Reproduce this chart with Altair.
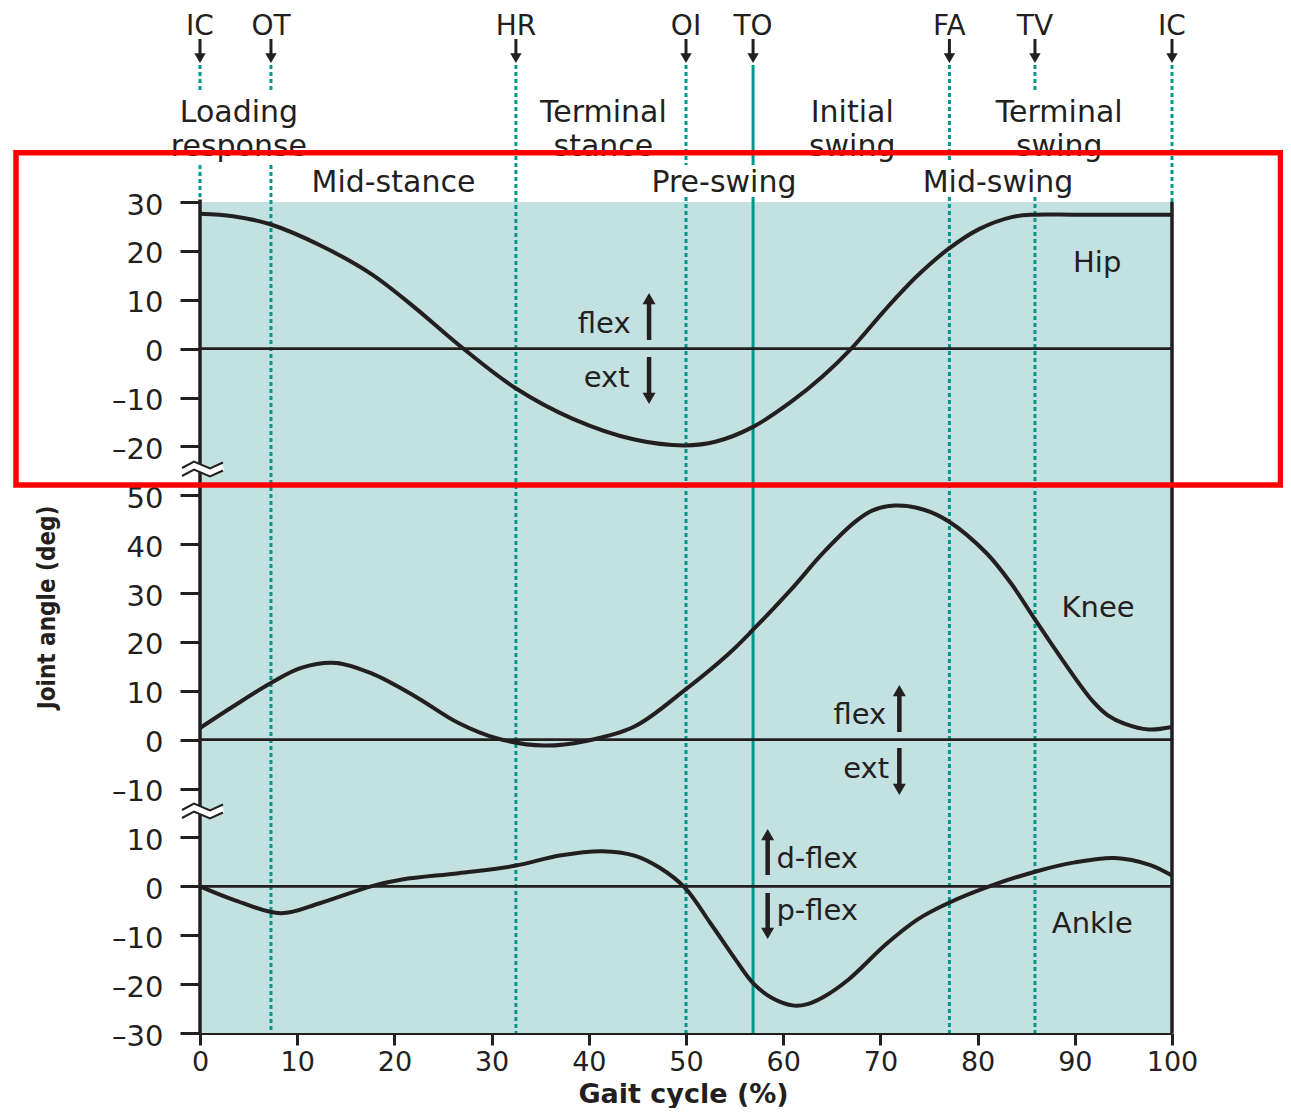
import altair as alt
import pandas as pd

# ---------------- data ----------------
hip_x = [0, 3.4, 7.3, 12.4, 17.6, 22.1, 26.6, 32.4, 38.3, 44.7, 49.9, 53.1, 56.9, 60.8,
         64.1, 67.0, 70.6, 73.8, 77.0, 80.2, 83.5, 85.7, 90, 95, 100]
hip_y = [27.6, 27.1, 25.4, 21.1, 15.3, 8.4, 0.8, -8.0, -14.3, -18.6, -19.8, -19.0, -16.0, -10.9,
         -5.6, 0.0, 8.2, 14.9, 20.4, 24.5, 26.9, 27.4, 27.4, 27.4, 27.4]

knee_x = [0, 3.4, 7.3, 10.4, 14.0, 17.6, 22.1, 26.6, 30.5, 35.4, 39.6, 44.7, 49.9, 54.4, 56.9,
          60.8, 64.1, 67.3, 69.2, 71.5, 74.4, 77.0, 80.9, 83.4, 85.9, 88.7, 91.8, 93.4, 95.1,
          97.6, 100]
knee_y = [2.4, 6.8, 11.6, 14.7, 15.7, 13.6, 8.9, 3.4, 0.3, -1.2, -0.3, 2.7, 10.2, 17.6, 22.5,
          30.7, 38.2, 44.4, 46.9, 47.9, 47.1, 44.7, 38.2, 32.1, 24.6, 16.4, 8.0, 5.0, 3.3,
          2.1, 2.6]

ankle_x = [0, 3.4, 8.3, 12.4, 17.6, 20.8, 26.6, 32.4, 37.0, 41.4, 44.7, 47.3, 49.9, 52.5, 55.1,
           56.9, 58.9, 61.1, 62.5, 64.0, 66.7, 70.6, 73.8, 77.0, 81.2, 86.1, 90.0, 94.1, 97.7, 100]
ankle_y = [0, -2.7, -5.5, -3.4, 0, 1.4, 2.7, 4.2, 6.3, 7.2, 6.3, 3.8, -0.3, -7.5, -15.0,
           -19.8, -22.9, -24.4, -24.1, -22.8, -19.1, -11.8, -6.8, -3.4, 0, 3.1, 4.9, 5.8, 4.4, 2.2]

joint_names = ["Hip", "Knee", "Ankle"]
hip_ticks = [30, 20, 10, 0, -10, -20]
knee_ticks = [50, 40, 30, 20, 10, 0, -10]
ankle_ticks = [10, 0, -10, -20, -30]
x_ticks = [0, 10, 20, 30, 40, 50, 60, 70, 80, 90, 100]

event_names = ["IC", "OT", "HR", "OI", "TO", "FA", "TV", "IC"]
event_pos = [0, 7.3, 32.5, 50.0, 56.9, 77.1, 85.9, 100]

phase_top_1 = ["Loading", "Terminal", "Initial", "Terminal"]
phase_top_2 = ["response", "stance", "swing", "swing"]
phase_top_x = [4.0, 41.5, 67.1, 88.4]
phase_mid = ["Mid-stance", "Pre-swing", "Mid-swing"]
phase_mid_x = [19.9, 53.9, 82.1]

# ---------------- layout helpers ----------------
PXX = 9.72                 # px per % gait cycle
PXY = 831 / 170            # px per degree
OFF = {"Hip": 0, "Knee": -80, "Ankle": -110}   # stacking offsets on the common axis
Y_MIN = -30 + OFF["Ankle"]
Y_TOP = 30
Y_MAX = Y_TOP + 194 / PXY
W = 972
H = round((Y_MAX - Y_MIN) * PXY)


def v(py):
    """virtual y for a pixel row of the figure"""
    return Y_TOP + (202 - py) / PXY


INK = "#231f20"
TEAL = "#00978f"
BG = "#c4e1e1"
FONT = "DejaVu Sans"

xs = alt.Scale(domain=[0, 100], nice=False, zero=False)
ys = alt.Scale(domain=[Y_MIN, Y_MAX], nice=False, zero=False)

tick_vals = hip_ticks + [t + OFF["Knee"] for t in knee_ticks] + [t + OFF["Ankle"] for t in ankle_ticks]
val = ("(datum.value >= -25 ? datum.value : (datum.value >= -95 ? datum.value + 80 : datum.value + 110))")
label_expr = f"{val} < 0 ? '\u2013' + abs({val}) : '' + {val}"

xaxis = alt.Axis(values=x_ticks, grid=False, domain=True, domainColor=INK, domainWidth=3,
                 tickSize=12, tickWidth=3, tickColor=INK, labelFont=FONT, labelFontSize=27,
                 labelColor=INK, labelPadding=4, labelFlush=False, labelOverlap=False,
                 title="Gait cycle (%)", titleFont=FONT, titleFontSize=27, titleFontWeight="bold",
                 titleColor=INK, titleX=483, titleY=69, titleAlign="center",
                 titleBaseline="alphabetic")
yaxis = alt.Axis(values=tick_vals, grid=False, domain=False, tickSize=20, tickWidth=3,
                 tickColor=INK, labelFont=FONT, labelFontSize=29, labelColor=INK,
                 labelPadding=17, labelOffset=3, labelOverlap=False, labelExpr=label_expr,
                 title="Joint angle (deg)",
                 titleFont="DejaVu Sans Condensed, DejaVu Sans, sans-serif",
                 titleFontSize=24, titleFontWeight="bold", titleColor=INK, titleAngle=270,
                 titleX=-153, titleY=599, titleAlign="center", titleBaseline="middle")


def X(f):
    return alt.X(f"{f}:Q", scale=xs, axis=xaxis)


def Y(f):
    return alt.Y(f"{f}:Q", scale=ys, axis=yaxis)


# ---------------- tables ----------------
curves = pd.concat([
    pd.DataFrame({"x": hip_x, "y": [a + OFF["Hip"] for a in hip_y], "joint": "Hip"}),
    pd.DataFrame({"x": knee_x, "y": [a + OFF["Knee"] for a in knee_y], "joint": "Knee"}),
    pd.DataFrame({"x": ankle_x, "y": [a + OFF["Ankle"] for a in ankle_y], "joint": "Ankle"}),
])

bg_df = pd.DataFrame({"x": [0], "x2": [100], "y": [Y_MIN], "y2": [Y_TOP]})
zero_df = pd.DataFrame({"x": [0] * 3, "x2": [100] * 3, "y": [OFF[j] for j in joint_names]})
frame_df = pd.DataFrame({"x": [0, 100], "y": [Y_MIN, Y_MIN], "y2": [Y_TOP + 0.5, Y_TOP]})

top, gap_hi, gap_lo, gap_lo2, txt_lo, bottom = v(65), v(90), v(165), v(160), v(197), Y_MIN
segments = {
    0: [(top, gap_hi), (gap_lo, Y_TOP)],
    1: [(top, gap_hi), (gap_lo, bottom)],
    2: [(top, bottom)],
    3: [(top, gap_lo), (txt_lo, bottom)],
    4: [(top, gap_lo), (txt_lo, bottom)],
    5: [(top, gap_lo2), (txt_lo, bottom)],
    6: [(top, gap_hi), (txt_lo, bottom)],
    7: [(top, Y_TOP)],
}
seg_rows = []
for i, segs in segments.items():
    for a, b in segs:
        seg_rows.append({"x": event_pos[i], "y": a, "y2": b, "solid": event_names[i] == "TO"})
seg_df = pd.DataFrame(seg_rows)

# break markers
zx = [-18, -6, 10, 23]
zy = [-1, -7.5, -0.5, -6.5]
brk_rows = []
for k, c in enumerate([v(469), v(811)]):
    for g, shift in (("u", 0), ("l", 8), ("m", 4)):
        for i in range(4):
            brk_rows.append({"x": zx[i] / PXX, "y": c - (zy[i] + shift) / PXY,
                             "grp": f"{k}{g}", "i": i, "kind": g})
brk_df = pd.DataFrame(brk_rows)

# arrows: (x, tail, tip, head size, shaft width)
arrow_rows = []
for p in event_pos:
    arrow_rows.append((p, v(39), v(63), 130, 3))
arrow_rows += [
    (46.2, v(340), v(293), 169, 4.5), (46.2, v(357), v(404), 169, 4.5),
    (71.95, v(732), v(685), 169, 4.5), (71.95, v(748), v(795), 169, 4.5),
    (58.4, v(875), v(829), 169, 4.5), (58.4, v(893), v(939), 169, 4.5),
]
ar = []
for x, tail, tip, size, w in arrow_rows:
    up = tip > tail
    h = (size ** 0.5) / 2 * (3 ** 0.5) / 2 / PXY
    head = tip - h if up else tip + h
    ar.append({"x": x, "tail": tail, "head": head, "shape": "triangle-up" if up else "triangle-down",
               "size": size, "w": w})
ar_df = pd.DataFrame(ar)

center_txt = []
for n, p in zip(event_names, event_pos):
    center_txt.append({"x": p, "y": v(34.5), "t": n, "s": 28})
for a, b, p in zip(phase_top_1, phase_top_2, phase_top_x):
    center_txt.append({"x": p, "y": v(122), "t": a, "s": 30})
    center_txt.append({"x": p, "y": v(156), "t": b, "s": 30})
for a, p in zip(phase_mid, phase_mid_x):
    center_txt.append({"x": p, "y": v(192), "t": a, "s": 30})
for n, p, py in zip(joint_names, [92.3, 92.4, 91.8], [272, 617, 933]):
    center_txt.append({"x": p, "y": v(py), "t": n, "s": 29})
ctr_df = pd.DataFrame(center_txt)

right_df = pd.DataFrame({"x": [44.3, 44.2, 70.6, 70.9],
                         "y": [v(333), v(387), v(724), v(778)],
                         "t": ["flex", "ext", "flex", "ext"]})
left_df = pd.DataFrame({"x": [59.3, 59.3], "y": [v(868), v(920)], "t": ["d-flex", "p-flex"]})

red_df = pd.DataFrame({"x": [(16 - 200) / PXX], "x2": [(1280.5 - 200) / PXX],
                       "y": [v(152.7)], "y2": [v(485)]})

# ---------------- layers ----------------
bg = alt.Chart(bg_df).mark_rect(color=BG).encode(x=X("x"), x2="x2", y=Y("y"), y2="y2")
dotted = alt.Chart(seg_df[~seg_df.solid]).mark_rule(color=TEAL, strokeWidth=3, strokeDash=[4, 3]).encode(
    x=X("x"), y=Y("y"), y2="y2")
solid = alt.Chart(seg_df[seg_df.solid]).mark_rule(color=TEAL, strokeWidth=3).encode(
    x=X("x"), y=Y("y"), y2="y2")
zeros = alt.Chart(zero_df).mark_rule(color=INK, strokeWidth=2.7).encode(x=X("x"), x2="x2", y=Y("y"))
lines = alt.Chart(curves).mark_line(color=INK, strokeWidth=4, interpolate="catmull-rom").encode(
    x=X("x"), y=Y("y"), detail="joint:N")
frame = alt.Chart(frame_df).mark_rule(color=INK, strokeWidth=3.5).encode(x=X("x"), y=Y("y"), y2="y2")
brk_white = alt.Chart(brk_df[brk_df.kind == "m"]).mark_line(color="white", strokeWidth=8).encode(
    x=X("x"), y=Y("y"), detail="grp:N", order="i:Q")
brk_black = alt.Chart(brk_df[brk_df.kind != "m"]).mark_line(color=INK, strokeWidth=2).encode(
    x=X("x"), y=Y("y"), detail="grp:N", order="i:Q")
shafts = alt.Chart(ar_df).mark_rule(color=INK).encode(
    x=X("x"), y=Y("tail"), y2="head", strokeWidth=alt.StrokeWidth("w:Q", scale=None))
heads = alt.Chart(ar_df).mark_point(filled=True, color=INK, opacity=1, strokeWidth=0).encode(
    x=X("x"), y=Y("head"), shape=alt.Shape("shape:N", scale=None),
    size=alt.Size("size:Q", scale=None))
ctext = alt.Chart(ctr_df).mark_text(font=FONT, color=INK, align="center",
                                    baseline="alphabetic").encode(
    x=X("x"), y=Y("y"), text="t:N", size=alt.Size("s:Q", scale=None))
rtext = alt.Chart(right_df).mark_text(font=FONT, fontSize=29, color=INK, align="right",
                                      baseline="alphabetic").encode(x=X("x"), y=Y("y"), text="t:N")
ltext = alt.Chart(left_df).mark_text(font=FONT, fontSize=29, color=INK, align="left",
                                     baseline="alphabetic").encode(x=X("x"), y=Y("y"), text="t:N")
red = alt.Chart(red_df).mark_rect(fillOpacity=0, stroke="#ff0000", strokeWidth=5.5).encode(
    x=X("x"), x2="x2", y=Y("y"), y2="y2")

chart = alt.layer(bg, dotted, solid, zeros, lines, frame, brk_white, brk_black, shafts, heads,
                  ctext, rtext, ltext, red).properties(
    width=W, height=H, autosize=alt.AutoSizeParams(type="none"),
    padding={"left": 192, "top": 0, "right": 111, "bottom": 75},
    background="white",
).configure_view(strokeWidth=0)

chart.save("out.html", embed_options={"renderer": "svg", "actions": False})
